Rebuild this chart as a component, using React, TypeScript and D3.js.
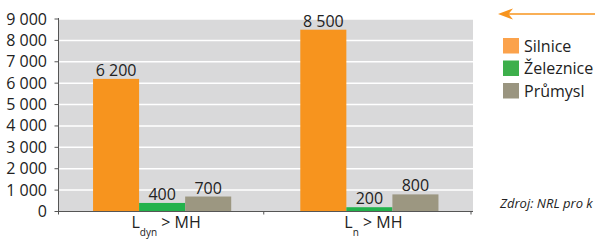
import React from "react";
import * as d3 from "d3";

const categories = ["Ldyn", "Ln"];
const categoryMain = ["L", "L"];
const categorySub = ["dyn", "n"];
const series = ["Silnice", "Železnice", "Průmysl"];
const silnice = [6200, 8500];
const zeleznice = [400, 200];
const prumysl = [700, 800];
const yTicks = [0, 1000, 2000, 3000, 4000, 5000, 6000, 7000, 8000, 9000];
const barColors = ["#F7941E", "#22B24C", "#9C9781"];
const legendColors = ["#FBA24B", "#3DAF4B", "#9A9580"];
const sourceText = "Zdroj: NRL pro k";

const W = 595;
const H = 240;
const left = 58.5;
const right = 473;
const top = 19;
const bottom = 211.5;
const font = "'Open Sans', sans-serif";

const fmt = (v: number) => d3.format(",")(v).replace(/,/g, " ");

export default function App() {
  const values = [silnice, zeleznice, prumysl];
  const x0 = d3.scaleBand<string>().domain(categories).range([left, right]).paddingInner(0).paddingOuter(0);
  const x1 = d3
    .scaleBand<string>()
    .domain(series)
    .range([0, x0.bandwidth()])
    .paddingOuter(0.75)
    .paddingInner(0);
  const y = d3.scaleLinear().domain([0, 9000]).range([bottom, top]);

  return (
    <svg width={W} height={H} style={{ position: "absolute", left: 0, top: 0 }} fontFamily={font}>
      <rect x={left} y={top} width={right - left} height={bottom - top} fill="#D9D9DA" />
      {yTicks.slice(1).map((t) => (
        <line key={t} x1={left} x2={right} y1={y(t)} y2={y(t)} stroke="#FFFFFF" strokeWidth={1.5} />
      ))}
      {categories.map((c, ci) => (
        <g key={c}>
          {series.map((s, si) => {
            const v = values[si][ci];
            const bx = (x0(c) as number) + (x1(s) as number);
            return (
              <g key={s}>
                <rect x={bx} y={y(v)} width={x1.bandwidth()} height={bottom - y(v)} fill={barColors[si]} />
                <text x={bx + x1.bandwidth() / 2} y={y(v) - 3} textAnchor="middle" fontSize={16} fill="#222">
                  {fmt(v)}
                </text>
              </g>
            );
          })}
          <text
            x={(x0(c) as number) + x0.bandwidth() / 2 + 4}
            y={228}
            textAnchor="middle"
            fontSize={16}
            fill="#222"
          >
            {categoryMain[ci]}
            <tspan fontSize={10} dy={8}>
              {categorySub[ci]}
            </tspan>
            <tspan dy={-8}> &gt; MH</tspan>
          </text>
        </g>
      ))}
      {/* axes */}
      <line x1={left} x2={left} y1={top - 1} y2={bottom + 3} stroke="#555" strokeWidth={1} />
      <line x1={left} x2={right} y1={bottom} y2={bottom} stroke="#555" strokeWidth={1} />
      {categories.map((c) => (
        <line
          key={c}
          x1={(x0(c) as number) + x0.bandwidth() - 2}
          x2={(x0(c) as number) + x0.bandwidth() - 2}
          y1={bottom}
          y2={bottom + 3}
          stroke="#555"
        />
      ))}
      {yTicks.map((t) => (
        <g key={t}>
          <line x1={left - 4} x2={left} y1={y(t)} y2={y(t)} stroke="#555" />
          <text x={47} y={y(t) + 5.5} textAnchor="end" fontSize={16} fill="#222">
            {fmt(t)}
          </text>
        </g>
      ))}
      {/* legend */}
      {series.map((s, i) => (
        <g key={s}>
          <rect x={503} y={38 + i * 22.5} width={16} height={15.5} fill={legendColors[i]} />
          <text x={524} y={51.5 + i * 22.5} fontSize={16} fill="#222">
            {s}
          </text>
        </g>
      ))}
      {/* arrow */}
      <line x1={505} x2={W} y1={14} y2={14} stroke="#F7941E" strokeWidth={1.5} />
      <path d="M498,14 L513,8.5 L508.5,14 L513,19.5 Z" fill="#F7941E" />
      <text x={500} y={208} fontSize={13} fontStyle="italic" fill="#222">
        {sourceText}
      </text>
    </svg>
  );
}
